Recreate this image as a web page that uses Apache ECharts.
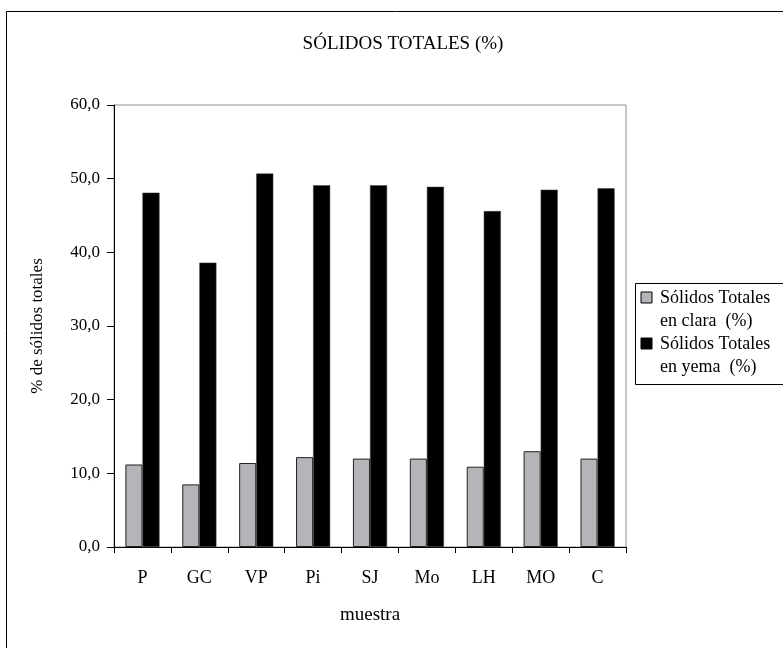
<!DOCTYPE html>
<html>
<head>
<meta charset="utf-8">
<script src="https://cdn.jsdelivr.net/npm/echarts@6/dist/echarts.min.js"></script>
<style>
  html, body { margin: 0; padding: 0; background: #fff; }
  #chart { width: 783px; height: 648px; }
</style>
</head>
<body>
<div id="chart"></div>
<script>
// Samples and their total solids (%)
const muestras = ['P', 'GC', 'VP', 'Pi', 'SJ', 'Mo', 'LH', 'MO', 'C'];
const solidosClara = [11.2, 8.5, 11.4, 12.2, 12.0, 12.0, 10.9, 13.0, 12.0];
const solidosYema = [48.1, 38.6, 50.7, 49.1, 49.1, 48.9, 45.6, 48.5, 48.7];
const nombresSeries = ['Sólidos Totales\nen clara  (%)', 'Sólidos Totales\nen yema  (%)'];
const coloresSeries = ['#b5b5b9', '#000000'];

const FONT = "'Liberation Serif', 'Times New Roman', serif";
const chart = echarts.init(document.getElementById('chart'));

// Legend drawn as a framed box with square swatches aligned to the first line
const legendX = 635, legendY = 283;
const legendItems = [];
nombresSeries.forEach((name, i) => {
  const y = legendY + 4 + i * 46;
  legendItems.push({
    type: 'rect',
    shape: { x: legendX + 6, y: y + 5, width: 11, height: 11 },
    style: { fill: coloresSeries[i], stroke: '#000', lineWidth: 1 }
  });
  legendItems.push({
    type: 'text',
    x: legendX + 25,
    y: y,
    style: { text: name, font: '18px ' + FONT, fill: '#000', lineHeight: 23 }
  });
});

chart.setOption({
  animation: false,
  backgroundColor: '#fff',
  textStyle: { fontFamily: FONT },
  grid: {
    left: 114, right: 157, top: 105, bottom: 101,
    show: true, borderColor: '#8f8f8f', borderWidth: 1, backgroundColor: 'transparent'
  },
  xAxis: {
    type: 'category',
    data: muestras,
    name: 'muestra',
    nameLocation: 'middle',
    nameGap: 59,
    nameTextStyle: { fontSize: 19, color: '#000', fontFamily: FONT },
    axisLine: { lineStyle: { color: '#000', width: 1 } },
    axisTick: { show: true, length: 6, lineStyle: { color: '#000' } },
    axisLabel: { fontSize: 18, color: '#000', margin: 22, fontFamily: FONT },
    splitLine: { show: false }
  },
  yAxis: {
    type: 'value',
    min: 0, max: 60, interval: 10,
    name: '% de sólidos totales',
    nameLocation: 'middle',
    nameGap: 68,
    nameTextStyle: { fontSize: 17, color: '#000', fontFamily: FONT },
    axisLine: { show: true, lineStyle: { color: '#000', width: 1 } },
    axisTick: { show: true, length: 7, lineStyle: { color: '#000' } },
    axisLabel: {
      fontSize: 17, color: '#000', margin: 14, fontFamily: FONT,
      formatter: v => v.toFixed(1).replace('.', ',')
    },
    splitLine: { show: false }
  },
  series: [
    {
      name: nombresSeries[0],
      type: 'bar',
      data: solidosClara,
      barGap: '0%',
      barCategoryGap: '40%',
      itemStyle: { color: coloresSeries[0], borderColor: '#222', borderWidth: 1 }
    },
    {
      name: nombresSeries[1],
      type: 'bar',
      data: solidosYema,
      barGap: '0%',
      barCategoryGap: '40%',
      itemStyle: { color: coloresSeries[1], borderColor: '#444', borderWidth: 0.5 }
    }
  ],
  graphic: [
    // outer chart frame (runs past the right and bottom edges)
    {
      type: 'rect',
      shape: { x: 6.5, y: 11.5, width: 820, height: 700 },
      style: { fill: 'none', stroke: '#000', lineWidth: 1 },
      silent: true
    },
    {
      type: 'text',
      x: 403, y: 44,
      style: {
        text: 'SÓLIDOS TOTALES (%)', font: '19px ' + FONT, fill: '#000',
        textAlign: 'center', textVerticalAlign: 'middle'
      }
    },
    {
      type: 'rect',
      shape: { x: legendX + 0.5, y: legendY + 0.5, width: 200, height: 101 },
      style: { fill: '#fff', stroke: '#000', lineWidth: 1 }
    },
    ...legendItems
  ]
});
</script>
</body>
</html>
